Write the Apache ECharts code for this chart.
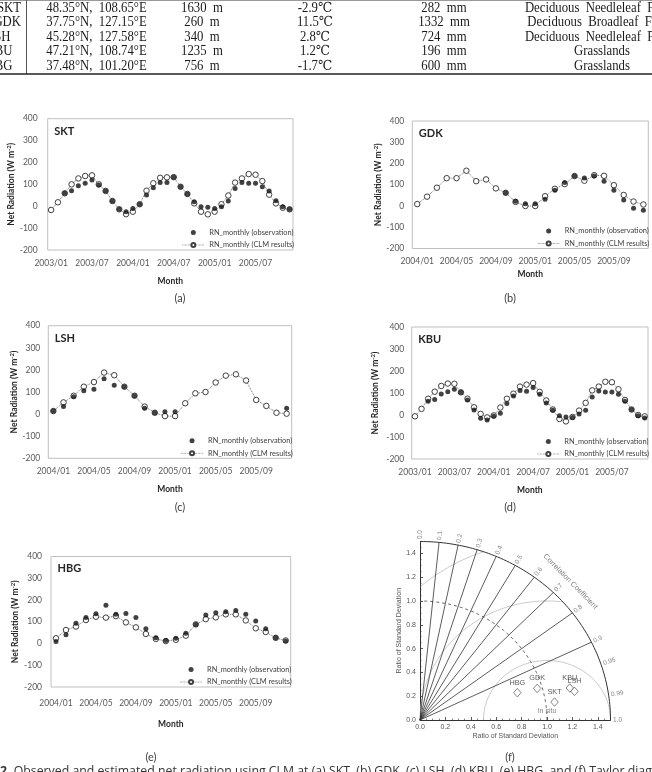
<!DOCTYPE html>
<html>
<head>
<meta charset="utf-8">
<title>Net radiation - CLM</title>
<script src="https://cdn.jsdelivr.net/npm/echarts@6/dist/echarts.min.js"></script>
<style>
html,body{margin:0;padding:0;background:#fff;}
#main{width:652px;height:772px;}
</style>
</head>
<body>
<div id="main"></div>
<script>
var FONT = 'Lato, "Noto Sans", sans-serif';
var SERIF = '"Liberation Serif", "DejaVu Serif", serif';
var TAYLOR_FONT = '"Liberation Sans", Arial, sans-serif';
var OBS = 'RN_monthly (observation)';
var CLM = 'RN_monthly (CLM results)';

// month categories
function monthLabels(startYear, count) {
    var out = [];
    for (var i = 0; i < count; i++) {
        var y = startYear + Math.floor(i / 12), m = i % 12 + 1;
        out.push(y + '/' + (m < 10 ? '0' + m : m));
    }
    return out;
}
var months2003 = monthLabels(2003, 36);
var months2004 = monthLabels(2004, 24);

// net radiation (W m-2)
var sktObs = [null, null, 59, 71, 94, 105, 120, 97, 70, 24, -14, -25, -10, 9, 51, 85, 108, 108, 132, 89, 56, 21, -2, -5, -10, -2, 24, 81, 108, 105, 105, 89, 70, 25, -2, -14];
var sktClm = [-17, 18, 59, 100, 127, 138, 141, 100, 70, 24, -14, -36, -25, 9, 71, 105, 130, 132, 133, 89, 56, 13, -25, -37, -25, 9, 49, 108, 127, 147, 144, 115, 53, 13, -7, -14];
var gdkObs = [null, null, null, null, null, null, null, null, null, 62, 22, 11, 11, 32, 74, 111, 141, 132, 141, 117, 74, 28, -11, -20];
var gdkClm = [9, 44, 86, 131, 131, 166, 117, 125, 83, 62, 19, 0, 0, 46, 81, 103, 141, 119, 145, 142, 98, 52, 21, 7];
var lshObs = [14, 34, 79, 106, 112, 160, 130, 124, 83, 27, 6, 11, 11, null, null, null, null, null, null, null, null, null, null, 26];
var lshClm = [14, 53, 83, 124, 145, 188, 176, 124, 83, 34, 6, -9, -9, 49, 94, 100, 143, 174, 180, 152, 64, 37, 6, 2];
var kbuObs = [null, null, 62, 71, 95, 106, 117, 103, 68, 23, -15, -23, -6, 8, 52, 86, 111, 108, 125, 94, 55, 22, -3, -9, -11, 5, 22, 82, 109, 105, 105, 94, 63, 25, -3, -14];
var kbuClm = [-6, 28, 74, 106, 132, 143, 142, 103, 74, 35, 5, -11, -2, 34, 74, 97, 129, 138, 145, 105, 66, 25, -18, -29, -9, 20, 55, 112, 129, 151, 149, 117, 68, 25, 0, -6];
var hbgObs = [9, 40, 93, 120, 137, 176, 134, 138, 119, 68, 27, 14, 24, 47, 87, 131, 141, 146, 152, 134, 103, 68, 27, 11];
var hbgClm = [24, 62, 78, 108, 123, 119, 126, 97, 74, 44, 21, 11, 17, 36, 88, 112, 120, 134, 134, 106, 70, 53, 26, 14];

// taylor diagram
var taylorNames = ['HBG', 'GDK', 'SKT', 'KBU', 'LSH'];
var taylorRatio = [0.80, 0.96, 1.07, 1.21, 1.24];
var taylorCorr = [0.958, 0.961, 0.990, 0.975, 0.981];
var corrLabels = [0.0, 0.1, 0.2, 0.3, 0.4, 0.5, 0.6, 0.7, 0.8, 0.9, 0.95, 0.99, 1.0];
var corrLines = [0.1, 0.2, 0.3, 0.4, 0.5, 0.6, 0.7, 0.8, 0.9];
var rmsRadii = [0.5, 1.0, 1.5];

// site table (top rows)
var tblSite = ['SKT', 'GDK', 'LSH', 'KBU', 'HBG'];
var tblLoc = ['48.35°N,  108.65°E', '37.75°N,  127.15°E', '45.28°N,  127.58°E', '47.21°N,  108.74°E', '37.48°N,  101.20°E'];
var tblElev = ['1630  m', '260  m', '340  m', '1235  m', '756  m'];
var tblTemp = ['-2.9℃', '11.5℃', '2.8℃', '1.2℃', '-1.7℃'];
var tblPrec = ['282  mm', '1332  mm', '724  mm', '196  mm', '600  mm'];
var tblVeg = ['Deciduous  Needleleaf  Forest', 'Deciduous  Broadleaf  Forest', 'Deciduous  Needleleaf  Forest', 'Grasslands', 'Grasslands'];

var panels = [
    {site: 'SKT', cats: months2003, obs: sktObs, clm: sktClm, every: 6, tag: '(a)'},
    {site: 'GDK', cats: months2004, obs: gdkObs, clm: gdkClm, every: 4, tag: '(b)'},
    {site: 'LSH', cats: months2004, obs: lshObs, clm: lshClm, every: 4, tag: '(c)'},
    {site: 'KBU', cats: months2003, obs: kbuObs, clm: kbuClm, every: 6, tag: '(d)'},
    {site: 'HBG', cats: months2004, obs: hbgObs, clm: hbgClm, every: 4, tag: '(e)'}
];
// plot boxes in pixels
var boxes = [
    {l: 47.7, t: 118.7, w: 245.3, h: 131.3, ny: 29.7, nx: 26.5, mx: 9, my: 10, tagX: 180, tagY: 298},
    {l: 412.3, t: 121, w: 236, h: 127.5, ny: 29.3, nx: 21, mx: 8, my: 8, tagX: 510, tagY: 298},
    {l: 48.3, t: 325.7, w: 243.4, h: 132.6, ny: 29.3, nx: 26, mx: 8.5, my: 8, tagX: 180, tagY: 507},
    {l: 411.7, t: 327, w: 236.3, h: 132, ny: 31.7, nx: 26.5, mx: 9, my: 7.5, tagX: 510, tagY: 507},
    {l: 51, t: 556.5, w: 239.7, h: 130.5, ny: 31, nx: 32.5, mx: 12, my: 9, tagX: 151, tagY: 757}
];
var taylorBox = {l: 420, t: 541.5, w: 190.5, h: 178.5};

function polarPt(r, c) {
    return [r * c, r * Math.sqrt(Math.max(0, 1 - c * c))];
}

function buildOption() {
    var grids = [], xAxes = [], yAxes = [], series = [], legends = [], graphics = [];

    panels.forEach(function (p, i) {
        var b = boxes[i];
        grids.push({left: b.l, top: b.t, width: b.w, height: b.h, show: true,
            borderColor: '#bfbfbf', borderWidth: 1, backgroundColor: 'transparent'});
        xAxes.push({
            gridIndex: i, type: 'category', data: p.cats, boundaryGap: true,
            axisLine: {show: false}, axisTick: {show: false},
            axisLabel: {interval: p.every - 1, margin: b.mx, fontSize: 8.5, color: '#595959', fontFamily: FONT},
            name: 'Month', nameLocation: 'middle', nameGap: b.nx,
            nameTextStyle: {fontSize: 8.5, fontWeight: 'bold', color: '#262626', fontFamily: FONT}
        });
        yAxes.push({
            gridIndex: i, type: 'value', min: -200, max: 400, interval: 100,
            axisLine: {show: false}, axisTick: {show: false}, splitLine: {show: false},
            axisLabel: {margin: b.my, fontSize: 8.5, color: '#595959', fontFamily: FONT},
            name: 'Net Radiation (W m{sup|-2})', nameLocation: 'middle', nameGap: b.ny,
            nameTextStyle: {fontSize: 8.5, fontWeight: 'bold', color: '#262626', fontFamily: FONT,
                rich: {sup: {fontSize: 6, fontWeight: 'bold', color: '#262626', fontFamily: FONT, verticalAlign: 'top', padding: [0, 0, 4, 0]}}}
        });
        series.push({
            name: CLM, type: 'line', xAxisIndex: i, yAxisIndex: i, data: p.clm,
            symbol: 'circle', symbolSize: 5.5, showAllSymbol: true,
            lineStyle: {color: '#595959', width: 0.9, type: 'dotted'},
            itemStyle: {color: '#ffffff', borderColor: '#404040', borderWidth: 1},
            z: 2
        });
        series.push({
            name: OBS, type: 'scatter', xAxisIndex: i, yAxisIndex: i, data: p.obs,
            symbol: 'circle', symbolSize: 5,
            itemStyle: {color: '#111111'},
            z: 3
        });
        legends.push({
            orient: 'vertical', left: b.l + b.w - 116, top: b.t + b.h - 26,
            itemWidth: 22, itemHeight: 5, itemGap: 5.5, selectedMode: false,
            lineStyle: {width: 0.7, type: 'dotted', color: '#595959'},
            data: [OBS, CLM],
            textStyle: {fontSize: 7.4, color: '#404040', fontFamily: FONT}
        });
        graphics.push({type: 'text', x: b.l + 6.5, y: b.t + 12.3,
            style: {text: p.site, fontSize: 11, fontWeight: 'bold', fontFamily: FONT, fill: '#262626',
                textAlign: 'left', textVerticalAlign: 'middle', verticalAlign: 'middle'}});
        graphics.push({type: 'text', x: b.tagX, y: b.tagY,
            style: {text: p.tag, fontSize: 11, fontFamily: FONT, fill: '#404040',
                textAlign: 'center', textVerticalAlign: 'middle', verticalAlign: 'middle'}});
    });

    // taylor diagram
    var ti = panels.length;
    grids.push({left: taylorBox.l, top: taylorBox.t, width: taylorBox.w, height: taylorBox.h, show: false});
    var taylorAxis = function (name, gap) {
        return {
            gridIndex: ti, type: 'value', min: 0, max: 1.5, interval: 0.2,
            axisLine: {show: true, lineStyle: {color: '#333', width: 1}},
            axisTick: {show: true, inside: true, length: 3, lineStyle: {color: '#333', width: 0.8}},
            minorTick: {show: true, splitNumber: 4, length: 1.5, lineStyle: {color: '#333', width: 0.6}},
            splitLine: {show: false},
            axisLabel: {fontSize: 7, color: '#555', fontFamily: TAYLOR_FONT, margin: 4,
                formatter: function (v) { return v > 1.45 ? '' : v.toFixed(1); }},
            name: name, nameLocation: 'middle', nameGap: gap,
            nameTextStyle: {fontSize: 7, color: '#555', fontFamily: TAYLOR_FONT}
        };
    };
    xAxes.push(taylorAxis('Ratio of Standard Deviation', 13));
    yAxes.push(taylorAxis('Ratio of Standard Deviation', 17));

    var lineSeries = function (pts, color, width, dash) {
        return {type: 'line', xAxisIndex: ti, yAxisIndex: ti, data: pts, symbol: 'none', silent: true,
            clip: false, lineStyle: {color: color, width: width, type: dash || 'solid'}, z: 1};
    };
    // centred RMS circles around the reference point (1, 0)
    rmsRadii.forEach(function (r) {
        var pts = [];
        for (var k = 0; k <= 360; k++) {
            var a = Math.PI * k / 360;
            var x = 1 + r * Math.cos(a), y = r * Math.sin(a);
            if (x >= 0 && x * x + y * y <= 1.5 * 1.5 + 1e-9) pts.push([x, y]);
        }
        series.push(lineSeries(pts, '#bdbdbd', 0.8));
    });
    var arc = function (r) {
        var pts = [];
        for (var k = 0; k <= 180; k++) pts.push(polarPt(r, Math.cos(Math.PI * k / 360)));
        return pts;
    };
    series.push(lineSeries(arc(1.0), '#555', 0.9, [3, 3]));
    series.push(lineSeries(arc(1.5), '#333', 1));
    corrLines.forEach(function (c) {
        series.push(lineSeries([[0, 0], polarPt(1.5, c)], '#333', 0.8));
    });
    // correlation labels around the outer arc
    series.push({
        type: 'scatter', xAxisIndex: ti, yAxisIndex: ti, symbolSize: 0, silent: true, clip: false,
        data: corrLabels.map(function (c) {
            var deg = Math.acos(c) * 180 / Math.PI;
            return {value: polarPt(1.52, c), label: {rotate: deg, formatter: String(c === 0 ? '0.0' : c === 1 ? '1.0' : c)}};
        }),
        label: {show: true, position: 'inside', align: 'left', verticalAlign: 'middle',
            fontSize: 6.5, color: '#666', fontFamily: TAYLOR_FONT}
    });
    var cc = polarPt(1.66, Math.cos(44.5 * Math.PI / 180));
    series.push({
        type: 'scatter', xAxisIndex: ti, yAxisIndex: ti, symbolSize: 0, silent: true, clip: false,
        data: [{value: cc}],
        label: {show: true, position: 'inside', rotate: -45.5, formatter: 'Correlation Coefficient',
            fontSize: 7.5, color: '#666', fontFamily: TAYLOR_FONT}
    });
    series.push({
        type: 'scatter', xAxisIndex: ti, yAxisIndex: ti, symbolSize: 0, silent: true, clip: false,
        data: [[1.0, 0]],
        label: {show: true, position: 'top', distance: 5, formatter: 'In situ',
            fontSize: 7, color: '#666', fontFamily: TAYLOR_FONT}
    });
    series.push({
        type: 'scatter', xAxisIndex: ti, yAxisIndex: ti, symbol: 'diamond', symbolSize: [7.5, 8.5],
        data: taylorNames.map(function (n, k) {
            return {name: n, value: polarPt(taylorRatio[k], taylorCorr[k])};
        }),
        itemStyle: {color: '#fff', borderColor: '#444', borderWidth: 0.8},
        label: {show: true, position: 'top', distance: 2, formatter: '{b}',
            fontSize: 7.3, color: '#333', fontFamily: TAYLOR_FONT},
        z: 5
    });
    graphics.push({type: 'text', x: 510, y: 757,
        style: {text: '(f)', fontSize: 11, fontFamily: FONT, fill: '#404040',
            textAlign: 'center', textVerticalAlign: 'middle', verticalAlign: 'middle'}});

    // table at the top
    var rowY = [8, 22.5, 37, 51.5, 66];
    var siteRight = [21, 21, 10.5, 12.5, 12.5];
    var cols = [{x: 96.5, v: tblLoc}, {x: 202, v: tblElev}, {x: 315, v: tblTemp}, {x: 444, v: tblPrec}, {x: 602, v: tblVeg}];
    rowY.forEach(function (y, r) {
        graphics.push({type: 'text', x: siteRight[r], y: y, scaleX: 0.91,
            style: {text: tblSite[r], fontSize: 14, fontFamily: SERIF, fill: '#1a1a1a',
                textAlign: 'right', textVerticalAlign: 'middle', verticalAlign: 'middle'}});
        cols.forEach(function (c) {
            graphics.push({type: 'text', x: c.x, y: y, scaleX: 0.91,
                style: {text: c.v[r], fontSize: 14, fontFamily: SERIF, fill: '#1a1a1a',
                    textAlign: 'center', textVerticalAlign: 'middle', verticalAlign: 'middle'}});
        });
    });
    graphics.push({type: 'line', shape: {x1: 0, y1: 0.5, x2: 652, y2: 0.5}, style: {stroke: '#999', lineWidth: 1}});
    graphics.push({type: 'line', shape: {x1: 26.5, y1: 0, x2: 26.5, y2: 74}, style: {stroke: '#555', lineWidth: 1}});
    graphics.push({type: 'line', shape: {x1: 0, y1: 74, x2: 652, y2: 74}, style: {stroke: '#222', lineWidth: 1.5}});

    // caption (cut by the page edge)
    graphics.push({type: 'text', x: 0, y: 771,
        style: {text: '{b|2.} Observed and estimated net radiation using CLM at (a) SKT, (b) GDK, (c) LSH, (d) KBU, (e) HBG, and (f) Taylor diagram at all sites.',
            fontSize: 12.3, fontFamily: '"Open Sans", sans-serif', fill: '#333',
            textAlign: 'left', textVerticalAlign: 'middle', verticalAlign: 'middle',
            rich: {b: {fontSize: 12.3, fontWeight: 'bold', fontFamily: '"Open Sans", sans-serif', fill: '#333'}}}});

    return {
        animation: false,
        backgroundColor: '#ffffff',
        grid: grids, xAxis: xAxes, yAxis: yAxes,
        legend: legends, series: series, graphic: graphics
    };
}

var myChart = echarts.init(document.getElementById('main'));
myChart.setOption(buildOption());
</script>
</body>
</html>
